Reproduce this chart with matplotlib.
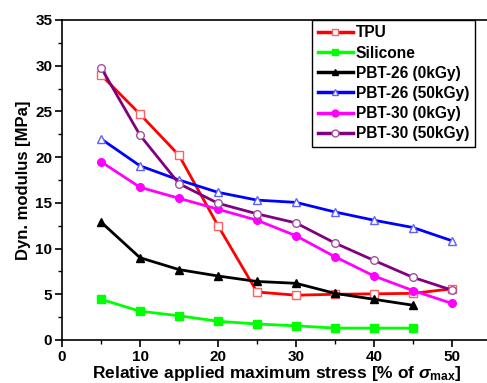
import numpy as np
import matplotlib
matplotlib.use('Agg')
import matplotlib.pyplot as plt
from matplotlib.ticker import MultipleLocator

plt.rcParams['font.family'] = ['Liberation Sans', 'DejaVu Sans']
plt.rcParams['font.weight'] = 'bold'
plt.rcParams['mathtext.fontset'] = 'custom'
plt.rcParams['mathtext.rm'] = 'Liberation Sans:bold'
plt.rcParams['mathtext.it'] = 'Liberation Sans:italic:bold'

stress = [5, 10, 15, 20, 25, 30, 35, 40, 45, 50]
tpu = [29.0, 24.7, 20.2, 12.5, 5.25, 4.9, 5.0, 5.05, 5.1, 5.6]
silicone = [4.45, 3.15, 2.65, 2.05, 1.75, 1.55, 1.3, 1.3, 1.3]
pbt26_0 = [12.9, 9.0, 7.7, 7.0, 6.4, 6.2, 5.1, 4.45, 3.8]
pbt26_50 = [22.0, 19.05, 17.5, 16.15, 15.3, 15.05, 14.0, 13.1, 12.3, 10.85]
pbt30_0 = [19.5, 16.7, 15.5, 14.3, 13.1, 11.4, 9.1, 7.0, 5.4, 4.0]
pbt30_50 = [29.8, 22.4, 17.1, 14.95, 13.8, 12.8, 10.6, 8.7, 6.85, 5.45]

series = [
    ("TPU", stress, tpu, '#FF0000', 's', 'white', '#FF6060'),
    ("Silicone", stress[:9], silicone, '#00FF00', 's', '#00FF00', '#00FF00'),
    ("PBT-26 (0kGy)", stress[:9], pbt26_0, '#000000', '^', '#000000', '#000000'),
    ("PBT-26 (50kGy)", stress, pbt26_50, '#0000FF', '^', 'white', '#6060FF'),
    ("PBT-30 (0kGy)", stress, pbt30_0, '#FF00FF', 'o', '#FF00FF', '#FF00FF'),
    ("PBT-30 (50kGy)", stress, pbt30_50, '#800080', 'o', 'white', '#A050A0'),
]

fig = plt.figure(figsize=(4.87, 3.83), dpi=100)
ax = fig.add_axes([0.1273, 0.1123, 0.881, 0.8355])

for name, x, y, c, m, fc, ec in series:
    ax.plot(x, y, color=c, lw=2.0, marker=m, ms=5.5, mfc=fc, mec=ec, mew=1.0, label=name)

ax.set_xlim(0, 55)
ax.set_ylim(0, 35)
ax.xaxis.set_major_locator(MultipleLocator(10))
ax.xaxis.set_minor_locator(MultipleLocator(5))
ax.yaxis.set_major_locator(MultipleLocator(5))
ax.yaxis.set_minor_locator(MultipleLocator(2.5))
ax.tick_params(which='major', direction='out', length=5, width=1.2, labelsize=11, pad=2)
ax.tick_params(which='minor', direction='out', length=3, width=1.0)
for s in ax.spines.values():
    s.set_linewidth(1.2)

ax.set_xlabel(r'Relative applied maximum stress [% of $\sigma_{\mathregular{max}}$]',
              fontsize=12.5, fontweight='bold', labelpad=0)
ax.set_ylabel('Dyn. modulus [MPa]', fontsize=12, fontweight='bold', labelpad=3)

leg = ax.legend(loc='upper left', bbox_to_anchor=(0.583, 1.0), borderaxespad=0,
                fancybox=False, edgecolor='black', framealpha=1, fontsize=11.2,
                handlelength=2.3, handletextpad=0.15, labelspacing=0.33,
                borderpad=0.35, markerscale=0.9)
leg.get_frame().set_linewidth(1.0)
for line in leg.get_lines():
    line.set_linewidth(2.5)

fig.savefig('out.png', dpi=100)
